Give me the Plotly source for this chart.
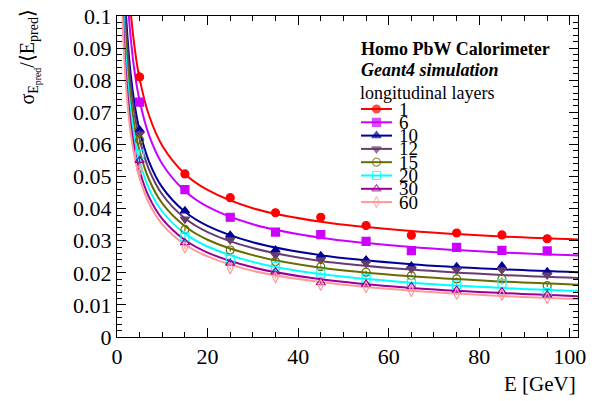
import plotly.graph_objects as go

# ---------------- data ----------------
energy = [5, 15, 25, 35, 45, 55, 65, 75, 85, 95]
layer_labels = ["1", "6", "10", "12", "15", "20", "30", "60"]

res_1 = [0.0810, 0.0508, 0.0434, 0.0387, 0.0373, 0.0347, 0.0317, 0.0324, 0.0318, 0.0306]
res_6 = [0.0732, 0.0459, 0.0373, 0.0327, 0.0319, 0.0298, 0.0269, 0.0279, 0.0270, 0.0268]
res_10 = [0.0645, 0.0393, 0.0317, 0.0271, 0.0253, 0.0240, 0.0221, 0.0219, 0.0221, 0.0203]
res_12 = [0.0632, 0.0367, 0.0302, 0.0255, 0.0240, 0.0230, 0.0212, 0.0209, 0.0209, 0.0193]
res_15 = [0.0614, 0.0335, 0.0271, 0.0235, 0.0219, 0.0202, 0.0191, 0.0181, 0.0181, 0.0160]
res_20 = [0.0570, 0.0312, 0.0242, 0.0221, 0.0198, 0.0183, 0.0167, 0.0162, 0.0167, 0.0139]
res_30 = [0.0550, 0.0294, 0.0230, 0.0203, 0.0169, 0.0165, 0.0157, 0.0146, 0.0141, 0.0131]
res_60 = [0.0520, 0.0279, 0.0214, 0.0186, 0.0162, 0.0155, 0.0143, 0.0134, 0.0131, 0.0121]

err_1 = [0.0016, 0.0010, 0.0006, 0.0006, 0.0006, 0.0005, 0.0005, 0.0005, 0.0005, 0.0005]
err_6 = [0.0015, 0.0008, 0.0006, 0.0005, 0.0005, 0.0005, 0.0005, 0.0005, 0.0005, 0.0005]
err_10 = [0.0012, 0.0007, 0.0005, 0.0005, 0.0004, 0.0004, 0.0004, 0.0004, 0.0004, 0.0004]
err_12 = [0.0012, 0.0007, 0.0005, 0.0005, 0.0004, 0.0004, 0.0004, 0.0004, 0.0004, 0.0004]
err_15 = [0.0011, 0.0006, 0.0005, 0.0004, 0.0004, 0.0004, 0.0004, 0.0004, 0.0004, 0.0004]
err_20 = [0.0011, 0.0006, 0.0005, 0.0004, 0.0004, 0.0004, 0.0004, 0.0004, 0.0004, 0.0004]
err_30 = [0.0010, 0.0006, 0.0004, 0.0004, 0.0004, 0.0004, 0.0003, 0.0003, 0.0003, 0.0003]
err_60 = [0.0010, 0.0006, 0.0004, 0.0004, 0.0004, 0.0003, 0.0003, 0.0003, 0.0003, 0.0003]

# fitted curves, read at sample energies
fit_energy = [1, 1.5, 2, 3, 4, 5, 7, 10, 15, 20, 30, 45, 65, 85, 102]
fit_1 = [0.1725, 0.1416, 0.1233, 0.1017, 0.0890, 0.0804, 0.0693, 0.0596, 0.0508, 0.0458, 0.0401, 0.0359, 0.0330, 0.0313, 0.0304]
fit_6 = [0.1596, 0.1308, 0.1137, 0.0936, 0.0816, 0.0736, 0.0631, 0.0539, 0.0455, 0.0406, 0.0351, 0.0309, 0.0280, 0.0263, 0.0254]
fit_10 = [0.1407, 0.1152, 0.1000, 0.0821, 0.0715, 0.0643, 0.0549, 0.0466, 0.0390, 0.0346, 0.0295, 0.0255, 0.0227, 0.0211, 0.0202]
fit_12 = [0.1352, 0.1106, 0.0960, 0.0787, 0.0685, 0.0615, 0.0524, 0.0444, 0.0370, 0.0327, 0.0277, 0.0237, 0.0210, 0.0193, 0.0184]
fit_15 = [0.1279, 0.1046, 0.0907, 0.0743, 0.0646, 0.0579, 0.0493, 0.0416, 0.0345, 0.0303, 0.0255, 0.0216, 0.0189, 0.0173, 0.0163]
fit_20 = [0.1212, 0.0991, 0.0859, 0.0703, 0.0610, 0.0547, 0.0464, 0.0391, 0.0322, 0.0282, 0.0234, 0.0196, 0.0169, 0.0153, 0.0143]
fit_30 = [0.1150, 0.0940, 0.0814, 0.0666, 0.0577, 0.0517, 0.0438, 0.0368, 0.0302, 0.0263, 0.0217, 0.0180, 0.0153, 0.0137, 0.0127]
fit_60 = [0.1102, 0.0900, 0.0780, 0.0637, 0.0553, 0.0495, 0.0419, 0.0351, 0.0288, 0.0251, 0.0206, 0.0171, 0.0144, 0.0128, 0.0118]

x_ticks = [0, 20, 40, 60, 80, 100]
y_ticks = [0, 0.01, 0.02, 0.03, 0.04, 0.05, 0.06, 0.07, 0.08, 0.09, 0.1]
y_tick_text = ["0", "0.01", "0.02", "0.03", "0.04", "0.05", "0.06", "0.07", "0.08", "0.09", "0.1"]

# ---------------- style ----------------
colors = ["#ff0000", "#cc00ff", "#000099", "#663d6e", "#6b6b00", "#00ffff", "#990099", "#ff9999"]
symbols = ["circle", "square", "triangle-up", "triangle-down",
           "circle-open", "square-open", "triangle-up-open", "diamond-tall-open"]
sizes = [8, 8, 8, 8, 8, 8, 8, 8]

res_all = [res_1, res_6, res_10, res_12, res_15, res_20, res_30, res_60]
err_all = [err_1, err_6, err_10, err_12, err_15, err_20, err_30, err_60]
fit_all = [fit_1, fit_6, fit_10, fit_12, fit_15, fit_20, fit_30, fit_60]

FONT = "Liberation Serif"
W, H = 601, 401
L, R, T, B = 117, 23, 16, 64
pw, ph = W - L - R, H - T - B

fig = go.Figure()

for i in range(len(layer_labels)):
    fig.add_trace(go.Scatter(
        x=fit_energy, y=fit_all[i], mode="lines",
        line=dict(color=colors[i], width=2, shape="spline", smoothing=1.0),
        hoverinfo="skip", showlegend=False))
for i in range(len(layer_labels)):
    fig.add_trace(go.Scatter(
        x=energy, y=res_all[i], mode="markers",
        marker=dict(color=colors[i], symbol=symbols[i], size=sizes[i], line=dict(color=colors[i], width=1.2)),
        error_y=dict(type="data", array=err_all[i], color=colors[i], thickness=1.2, width=0),
        showlegend=False, name=layer_labels[i]))

# manual legend (ROOT TLegend style) on an overlay axis spanning the frame
leg_x0, leg_x1 = 361, 392
leg_top, leg_step = 109, 13.3
for i, lab in enumerate(layer_labels):
    py = leg_top + i * leg_step
    yy = (H - B - py) / ph
    xa = (leg_x0 - L) / pw
    xb = (leg_x1 - L) / pw
    xm = (xa + xb) / 2
    fig.add_trace(go.Scatter(
        x=[xa, xm, xb], y=[yy, yy, yy], xaxis="x2", yaxis="y2", mode="lines+markers",
        line=dict(color=colors[i], width=2),
        marker=dict(color=colors[i], symbol=symbols[i], size=[0, sizes[i], 0],
                    line=dict(color=colors[i], width=1.2)),
        showlegend=False, hoverinfo="skip", cliponaxis=False))
    fig.add_annotation(x=(397 - L) / pw, y=yy, xref="paper", yref="paper", text=lab,
                       showarrow=False, xanchor="left", yanchor="middle",
                       font=dict(family=FONT, size=19, color="black"))

fig.add_annotation(x=(359 - L) / pw, y=(H - B - 49) / ph, xref="paper", yref="paper",
                   text="<b>Homo PbW Calorimeter</b>", showarrow=False, xanchor="left", yanchor="middle",
                   font=dict(family=FONT, size=18, color="black"))
fig.add_annotation(x=(359 - L) / pw, y=(H - B - 70) / ph, xref="paper", yref="paper",
                   text="<b><i>Geant4 simulation</i></b>", showarrow=False, xanchor="left", yanchor="middle",
                   font=dict(family=FONT, size=18, color="black"))
fig.add_annotation(x=(358 - L) / pw, y=(H - B - 93) / ph, xref="paper", yref="paper",
                   text="longitudinal layers", showarrow=False, xanchor="left", yanchor="middle",
                   font=dict(family=FONT, size=18, color="black"))

# axis titles
fig.add_annotation(x=1.0, y=(H - B - 384) / ph, xref="paper", yref="paper", text="E [GeV]",
                   showarrow=False, xanchor="right", yanchor="middle",
                   font=dict(family=FONT, size=21, color="black"))
fig.add_annotation(x=(29 - L) / pw, y=(H - B - 8) / ph, xref="paper", yref="paper",
                   text="σ<sub>E<sub>pred</sub></sub>/⟨E<sub>pred</sub>⟩", textangle=-90,
                   showarrow=False, xanchor="center", yanchor="top",
                   font=dict(family=FONT, size=20, color="black"))

axis_common = dict(showgrid=False, zeroline=False, showline=True, linecolor="black", linewidth=1,
                   mirror="ticks", ticks="inside", ticklen=9, tickwidth=1, tickcolor="black",
                   automargin=False,
                   tickfont=dict(family=FONT, size=22, color="black"))

fig.update_layout(
    width=W, height=H, margin=dict(l=L, r=R, t=T, b=B, autoexpand=False),
    font=dict(family=FONT, color="black"),
    paper_bgcolor="white", plot_bgcolor="white", showlegend=False,
    xaxis=dict(range=[0, 101.8], tickvals=x_ticks, ticktext=[str(v) for v in x_ticks],
               minor=dict(dtick=5, tick0=0, ticks="inside", ticklen=5, tickcolor="black", showgrid=False),
               **axis_common),
    yaxis=dict(range=[0, 0.1], tickvals=y_ticks, ticktext=y_tick_text,
               minor=dict(dtick=0.002, tick0=0, ticks="inside", ticklen=5, tickcolor="black", showgrid=False),
               **axis_common),
    xaxis2=dict(overlaying="x", range=[0, 1], visible=False, fixedrange=True),
    yaxis2=dict(overlaying="y", range=[0, 1], visible=False, fixedrange=True),
)

fig.write_html("out.html", config={"displayModeBar": False, "staticPlot": True},
               post_script="document.body.style.margin='0px';document.body.style.padding='0px';")
